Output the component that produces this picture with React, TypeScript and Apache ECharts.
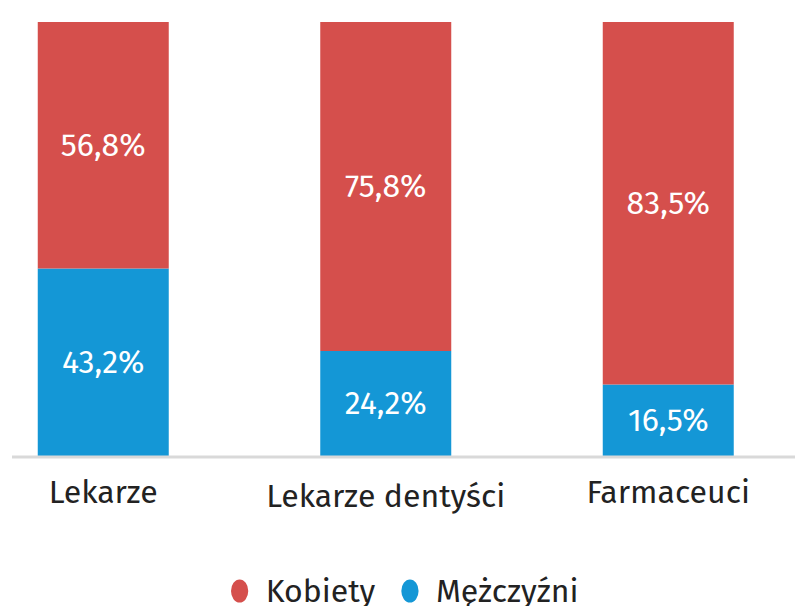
import React, { useEffect, useRef } from "react";
import * as echarts from "echarts";

const categories = ["Lekarze", "Lekarze dentyści", "Farmaceuci"];
const kobiety = [56.8, 75.8, 83.5];
const mezczyzni = [43.2, 24.2, 16.5];
const seriesNames = ["Kobiety", "Mężczyźni"];

const RED = "#d54f4c";
const BLUE = "#1497d6";
const FONT = "'Fira Sans', 'Open Sans', 'Noto Sans', sans-serif";

export default function App() {
  const ref = useRef<HTMLDivElement>(null);
  useEffect(() => {
    document.body.style.margin = "0";
    const chart = echarts.init(ref.current!, null, { renderer: "svg" });
    const fmt = (p: any) => String(p.value).replace(".", ",") + "%";
    chart.setOption({
      animation: false,
      backgroundColor: "#ffffff",
      textStyle: { fontFamily: FONT },
      grid: {
        left: -38,
        top: 22,
        width: 847.5,
        height: 434,
        containLabel: false,
        outerBoundsMode: "none",
      },
      legend: {
        data: seriesNames,
        left: 231,
        top: 575,
        padding: 0,
        itemWidth: 20,
        itemHeight: 23,
        itemGap: 26,
        icon: "path://M0,12a9,12 0 1,0 18,0a9,12 0 1,0 -18,0",
        textStyle: { fontSize: 32, lineHeight: 30, color: "#222222", fontFamily: FONT, padding: [0, 0, 0, 11] },
      },
      xAxis: {
        type: "category",
        data: categories.map((c, i) =>
          i === 1 ? { value: c, textStyle: { padding: [4, 0, 0, 0] } } : c
        ),
        axisLine: { show: false },
        axisTick: { show: false },
        axisLabel: { fontSize: 32, color: "#222222", margin: 20, interval: 0, fontFamily: FONT },
      },
      yAxis: {
        type: "value",
        min: 0,
        max: 100,
        show: false,
        splitLine: { show: false },
      },
      graphic: [
        {
          type: "line",
          shape: { x1: 12, y1: 457, x2: 795, y2: 457 },
          style: { stroke: "#d9d9d9", lineWidth: 3 },
          z: 10,
        },
      ],
      series: [
        {
          name: "Mężczyźni",
          type: "bar",
          stack: "total",
          barWidth: 131,
          data: mezczyzni,
          itemStyle: { color: BLUE },
          label: { show: true, position: "inside", color: "#ffffff", fontSize: 32, fontFamily: FONT, formatter: fmt },
        },
        {
          name: "Kobiety",
          type: "bar",
          stack: "total",
          barWidth: 131,
          data: kobiety,
          itemStyle: { color: RED },
          label: { show: true, position: "inside", color: "#ffffff", fontSize: 32, fontFamily: FONT, formatter: fmt },
        },
      ],
    });
    return () => chart.dispose();
  }, []);
  return <div ref={ref} style={{ width: 795, height: 606, position: "absolute", left: 0, top: 0 }} />;
}
